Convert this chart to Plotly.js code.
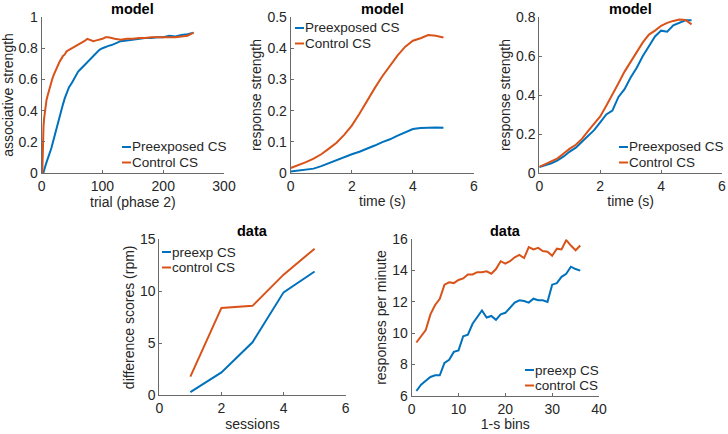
<!DOCTYPE html>
<html><head><meta charset="utf-8">
<script src="https://cdn.plot.ly/plotly-3.0.1.min.js"></script>
<style>body{margin:0;padding:0;background:#fff}#c{width:728px;height:434px}</style>
</head><body><div id="c"></div>
<script>
// ---- data ----
const trialsA = [1,2,3,4,5,6,8,10,12,14,16,18,20,23,26,29,32,35,38,41,45,50,55,60,65,70,75,80,85,90,95,100,105,110,115,120,130,140,150,160,170,180,190,200,210,220,230,240,250];
const assocPre = [0,0,0.005,0.015,0.03,0.045,0.07,0.09,0.11,0.13,0.16,0.19,0.22,0.27,0.31,0.36,0.41,0.44,0.48,0.51,0.55,0.58,0.62,0.65,0.67,0.69,0.71,0.73,0.75,0.77,0.79,0.80,0.81,0.815,0.82,0.83,0.845,0.85,0.855,0.86,0.865,0.865,0.87,0.87,0.88,0.875,0.885,0.89,0.90];
const assocCtl = [0,0.2,0.3,0.35,0.39,0.42,0.47,0.5,0.53,0.56,0.59,0.61,0.63,0.66,0.69,0.71,0.73,0.75,0.76,0.78,0.79,0.80,0.81,0.82,0.835,0.845,0.86,0.85,0.845,0.85,0.855,0.86,0.87,0.87,0.865,0.86,0.855,0.86,0.86,0.865,0.865,0.87,0.87,0.87,0.87,0.87,0.875,0.88,0.90];

const timeB = [0,0.25,0.5,0.75,1,1.25,1.5,1.75,2,2.25,2.5,2.75,3,3.25,3.5,3.75,4,4.25,4.5,4.75,5];
const respPreB = [0.005,0.008,0.011,0.014,0.022,0.032,0.042,0.05,0.06,0.068,0.077,0.088,0.099,0.108,0.12,0.131,0.141,0.144,0.146,0.146,0.145];
const respCtlB = [0.016,0.025,0.035,0.046,0.06,0.078,0.097,0.122,0.152,0.19,0.232,0.272,0.31,0.345,0.377,0.405,0.424,0.432,0.442,0.44,0.434];

const timeC = [0,0.2,0.4,0.6,0.8,1,1.2,1.4,1.6,1.8,2,2.2,2.4,2.6,2.8,3,3.2,3.4,3.6,3.8,4,4.2,4.4,4.6,4.8,5];
const respPreC = [0.031,0.04,0.05,0.065,0.085,0.11,0.13,0.16,0.19,0.22,0.26,0.30,0.32,0.39,0.43,0.49,0.54,0.60,0.65,0.70,0.73,0.725,0.757,0.77,0.783,0.783];
const respCtlC = [0.031,0.045,0.058,0.075,0.1,0.125,0.145,0.175,0.215,0.255,0.29,0.345,0.40,0.46,0.52,0.57,0.62,0.67,0.71,0.73,0.755,0.77,0.78,0.787,0.785,0.762];

const sessions = [1,2,3,4,5];
const diffPre = [0.3,2.2,5.1,9.9,11.9];
const diffCtl = [1.8,8.4,8.6,11.6,14.1];

const bins = [1,2,3,4,5,6,7,8,9,10,11,12,13,14,15,16,17,18,19,20,21,22,23,24,25,26,27,28,29,30,31,32,33,34,35,36];
const rpmPre = [6.3,6.7,6.95,7.2,7.3,7.3,8.1,8.3,8.8,8.9,9.8,9.9,10.6,11.0,11.45,11.0,11.1,10.85,11.2,11.3,11.6,11.95,12.1,12.05,11.95,12.2,12.1,12.1,12.0,13.1,13.2,13.6,13.8,14.25,14.1,14.0];
const rpmCtl = [9.4,9.8,10.2,11.2,11.8,12.2,13.1,13.25,13.2,13.4,13.5,13.75,13.75,13.9,13.9,13.95,13.8,14.1,14.6,14.45,14.6,14.85,15.0,14.8,15.5,15.35,15.45,15.25,15.2,14.95,15.4,15.35,15.95,15.6,15.3,15.6];

const titles = ['model','model','model','data','data'];
const namesModel = ['Preexposed CS','Control CS'];
const namesData = ['preexp CS','control CS'];
const xTitles = ['trial (phase 2)','time (s)','time (s)','sessions','1-s bins'];
const yTitles = ['associative strength','response strength','response strength','difference scores (rpm)','responses per minute'];

// ---- styling ----
const BLUE = '#0072BD', RED = '#D95319';
const W = 728, H = 434;
function dom(x0,x1,y0,y1){return {x:[x0/W,x1/W], y:[1-y1/H,1-y0/H]};}
const doms = [dom(41.7,224,17,173), dom(290.7,474,17,173), dom(539.3,722,17,173), dom(159.3,345.7,239.3,395.3), dom(411.7,599,239.3,395.7)];
const titleY = [9,9,9,230.5,230.5];
const xr = [[0,300],[0,6],[0,6],[0,6],[0,40]];
const yr = [[0,1],[0,0.5],[0,0.8],[0,15],[6,16]];
const xdt = [100,2,2,2,10];
const ydt = [0.2,0.1,0.2,5,2];
// legend anchor in pixels: line start x, first row y
const legPx = [[122,147],[295,28],[619,147],[162,252],[525,370]];
const rowPx = 15.5;

const series = [
  [trialsA, assocPre, assocCtl],
  [timeB, respPreB, respCtlB],
  [timeC, respPreC, respCtlC],
  [sessions, diffPre, diffCtl],
  [bins, rpmPre, rpmCtl]
];

const traces = [];
const FONT = 'Liberation Sans, Arial, sans-serif';
const layout = {width:W, height:H, margin:{l:0,r:0,t:0,b:0}, paper_bgcolor:'#fff', plot_bgcolor:'#fff',
  showlegend:false, font:{family:FONT, size:14, color:'#262626'},
  annotations:[], shapes:[]};

series.forEach((s,i)=>{
  const k = i===0 ? '' : String(i+1);
  const xa = 'x'+k, ya = 'y'+k;
  const names = i<3 ? namesModel : namesData;
  traces.push({x:s[0], y:s[1], xaxis:xa, yaxis:ya, mode:'lines', line:{color:BLUE,width:2}, name:names[0]});
  traces.push({x:s[0], y:s[2], xaxis:xa, yaxis:ya, mode:'lines', line:{color:RED,width:2}, name:names[1]});
  const axCommon = {showgrid:false, zeroline:false, showline:true, linecolor:'#6a6a6a', linewidth:1,
    ticks:'inside', ticklen:3, tickcolor:'#6a6a6a', mirror:false, fixedrange:true,
    tickfont:{size:14, color:'#262626'}};
  layout['xaxis'+k] = Object.assign({}, axCommon, {domain:doms[i].x, range:xr[i], dtick:xdt[i], tick0:0,
    anchor:ya, title:{text:xTitles[i], font:{size:14,color:'#262626'}, standoff:3}});
  layout['yaxis'+k] = Object.assign({}, axCommon, {domain:doms[i].y, range:yr[i], dtick:ydt[i], tick0:0,
    anchor:xa, title:{text:yTitles[i], font:{size:14,color:'#262626'}, standoff:2}});
  layout.annotations.push({xref:xa+' domain', yref:'paper', x:0.5, y:1-titleY[i]/H, yanchor:'middle', borderpad:0,
    text:'<b>'+titles[i]+'</b>', showarrow:false, font:{size:14.5,color:'#000'}});
  const lp = legPx[i];
  [BLUE,RED].forEach((c,j)=>{
    const yy = 1 - (lp[1] + j*rowPx)/H;
    layout.shapes.push({type:'line', xref:'paper', yref:'paper', x0:lp[0]/W, x1:(lp[0]+9)/W, y0:yy, y1:yy,
      line:{color:c,width:2}});
    layout.annotations.push({xref:'paper', yref:'paper', x:(lp[0]+9)/W, y:yy, xanchor:'left', yanchor:'middle',
      xshift:-1, text:names[j], showarrow:false, font:{size:13.5,color:'#262626'}});
  });
});

Plotly.newPlot('c', traces, layout, {displayModeBar:false, staticPlot:true});
</script></body></html>
